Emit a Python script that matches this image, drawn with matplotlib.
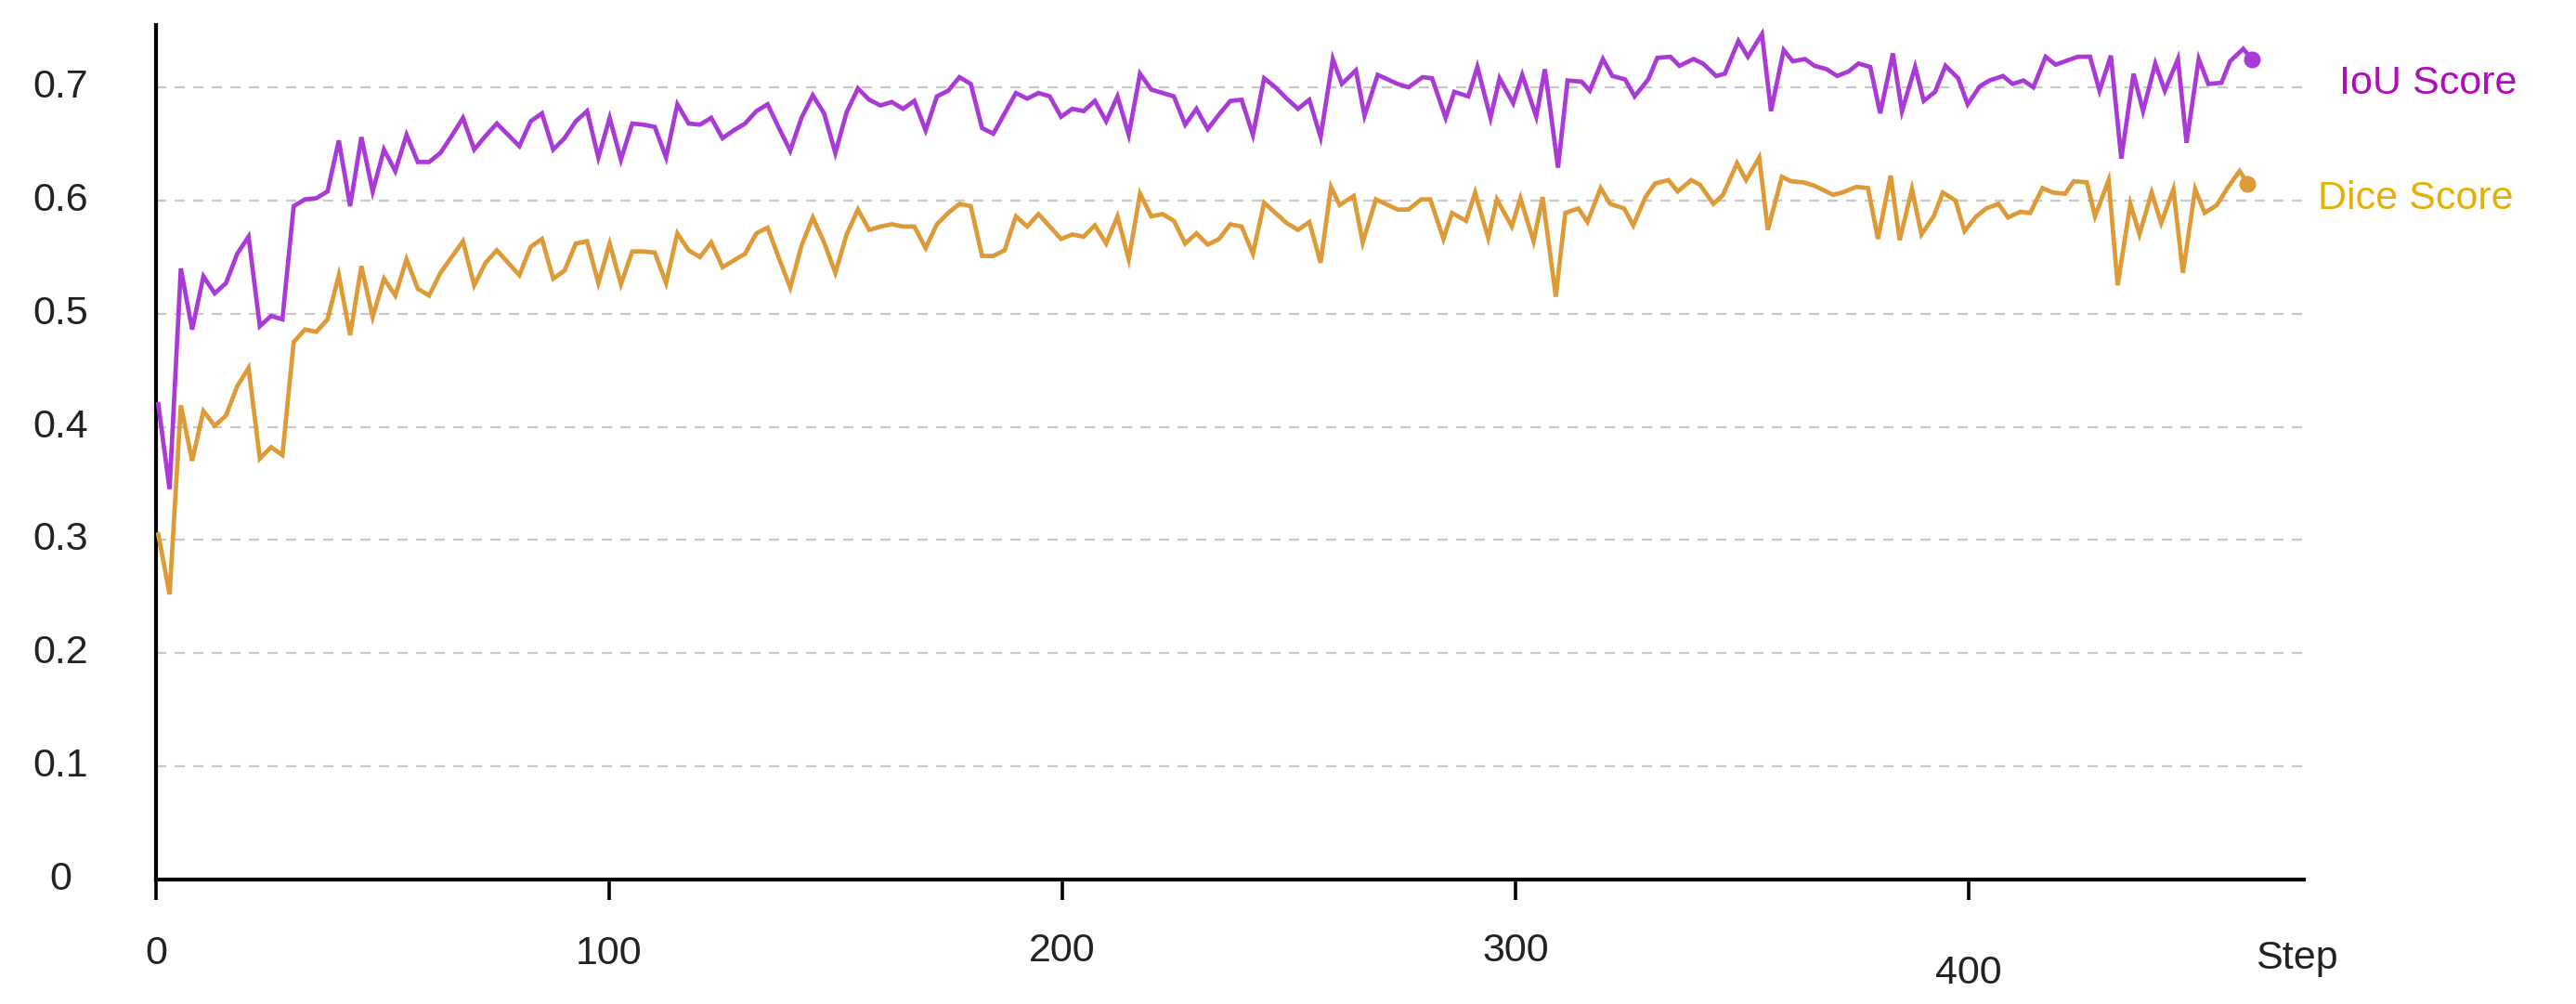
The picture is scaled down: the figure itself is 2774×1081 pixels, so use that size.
import numpy as np
import matplotlib
matplotlib.use("Agg")
import matplotlib.pyplot as plt
import matplotlib.transforms as mtransforms

plt.rcParams['font.family'] = ['Liberation Sans', 'DejaVu Sans']

iou_early = [0.42,0.345,0.54,0.486,0.533,0.518,0.527,0.553,0.568,0.489,
0.498,0.495,0.595,0.601,0.602,0.608,0.653,0.595,0.656,0.608,
0.645,0.626,0.658,0.634,0.634,0.642,0.657,0.673,0.645,0.657,
0.668,0.658,0.648,0.670,0.677,0.645,0.655,0.670,0.679,0.638,
0.673,0.636,0.668,0.667,0.665,0.638,0.685,0.668,0.667,0.673,
0.655,0.662,0.668,0.679,0.685,0.664,0.644,0.673,0.693,0.677,
0.642,0.678,0.699,0.689,0.684,0.687,0.681,0.688,0.662,0.692,
0.697,0.709,0.703,0.664,0.659,0.677,0.695,0.690,0.695,0.692,
0.674,0.681,0.679,0.688,0.670,0.692,0.658,0.712,0.698,0.695,
0.692,0.667,0.681,0.663,0.676,0.688,0.689,0.658,0.708,0.700,
0.690,0.681,0.689,0.656]
dice_early = [0.305,0.252,0.419,0.370,0.414,0.401,0.410,0.436,0.452,0.372,
0.382,0.375,0.475,0.486,0.484,0.495,0.534,0.481,0.542,0.497,
0.531,0.516,0.548,0.522,0.516,0.536,0.550,0.564,0.525,0.545,
0.556,0.545,0.534,0.559,0.566,0.531,0.538,0.562,0.564,0.527,
0.562,0.526,0.555,0.555,0.554,0.527,0.571,0.556,0.550,0.563,
0.541,0.547,0.553,0.571,0.576,0.549,0.523,0.560,0.585,0.563,
0.536,0.570,0.592,0.574,0.577,0.579,0.577,0.577,0.558,0.579,
0.589,0.597,0.595,0.551,0.551,0.556,0.586,0.577,0.588,0.577,
0.566,0.570,0.568,0.578,0.562,0.586,0.548,0.606,0.586,0.588,
0.582,0.562,0.571,0.561,0.566,0.579,0.577,0.553,0.598,0.589,
0.580,0.574,0.581,0.545]
early_steps = np.linspace(0.5, 257, len(iou_early))

iou_late_steps = [259.7,261.7,264.8,266.7,269.6,274,276.4,279.5,281.6,284.6,286.5,289.6,291.6,294.5,296.5,299.5,301.5,304.6,306.5,309.4,311.5,314.6,316.4,319.3,321.4,324.2,326.3,329.3,331.3,334.2,336.2,339.3,341.4,344.3,346.2,349.2,351.3,354.4,356.4,359.2,361.2,363.9,366,368.7,371,373.5,375.7,378.3,380.5,383.3,385.3,388.2,390.1,392.6,394.9,397.7,399.8,402.5,404.6,407.6,409.7,412.1,414.3,417,419.2,422,424.1,426.8,428.9,431.4,433.7,436.4,438.5,441.2,443.3,446.2,448.1,450.8,452.9,455.8,457.7,460.6,462.5]
iou_late = [.725,.703,.715,.675,.711,.703,.700,.709,.708,.673,.696,.692,.718,.673,.708,.686,.711,.674,.716,.629,.706,.705,.697,.725,.710,.707,.692,.707,.726,.727,.719,.725,.721,.710,.712,.741,.727,.747,.679,.733,.723,.725,.719,.716,.710,.714,.721,.718,.677,.730,.679,.718,.688,.696,.719,.708,.685,.701,.706,.710,.703,.706,.700,.727,.720,.724,.727,.727,.697,.728,.637,.712,.679,.721,.697,.725,.651,.725,.703,.704,.723,.734,.725]
dice_late_steps = [259.3,261.2,264.3,266.3,269.2,274,276.4,279.2,281.2,284.1,286,289.1,291.1,294,295.9,299.2,301.1,304,306,308.9,311,313.9,315.9,318.8,320.9,324,326,328.7,330.8,333.8,335.8,338.8,340.7,343.7,345.8,348.9,350.9,353.8,355.7,358.8,360.8,363.6,366,370.1,372.1,375.2,377.8,380,382.8,384.8,387.5,389.6,392.3,394.3,397.1,399.1,401.7,403.9,406.6,408.7,411.4,413.6,416.3,418.6,421.3,423.2,426.1,427.9,430.9,432.9,435.7,437.7,440.4,442.5,445.2,447.3,450,452.1,454.8,457.1,459.8,461.6]
dice_late = [.612,.596,.604,.563,.601,.592,.592,.601,.601,.566,.589,.582,.607,.567,.601,.577,.602,.564,.603,.515,.589,.593,.581,.611,.597,.593,.578,.603,.615,.618,.608,.618,.614,.597,.605,.633,.618,.638,.574,.621,.617,.616,.613,.605,.607,.612,.611,.566,.622,.565,.610,.570,.586,.607,.600,.573,.586,.593,.597,.585,.590,.589,.611,.607,.606,.617,.616,.586,.618,.525,.597,.570,.607,.580,.610,.536,.610,.589,.596,.611,.626,.615]

x_ticks = [0, 100, 200, 300, 400]
y_ticks = [0, 0.1, 0.2, 0.3, 0.4, 0.5, 0.6, 0.7]
y_labels = ['0', '0.1', '0.2', '0.3', '0.4', '0.5', '0.6', '0.7']
series_names = ['IoU Score', 'Dice Score']

iou_x = np.concatenate([early_steps, iou_late_steps])
iou_y = np.concatenate([iou_early, iou_late])
dice_x = np.concatenate([early_steps, dice_late_steps])
dice_y = np.concatenate([dice_early, dice_late])

W, H = 2774, 1081
fig = plt.figure(figsize=(W/100, H/100), dpi=100)
ax = fig.add_axes([168/W, 1-947/H, (2481-168)/W, (947-27)/H])
ax.set_xlim(0, 474)
ax.set_ylim(0, 0.755)

for v in y_ticks[1:]:
    ax.axhline(v, color='#c8c8c8', lw=1.6, ls=(0, (5, 4)), zorder=1)

c_iou, c_dice = '#a93ad8', '#dd9a36'
ax.plot(iou_x, iou_y, color=c_iou, lw=3.4, zorder=3, solid_joinstyle='miter')
ax.plot(dice_x, dice_y, color=c_dice, lw=3.4, zorder=3, solid_joinstyle='miter')
ax.plot(iou_x[-1], iou_y[-1], 'o', color=c_iou, ms=12, zorder=4)
ax.plot(dice_x[-1], dice_y[-1], 'o', color=c_dice, ms=12, zorder=4)

for s in ['top', 'right']:
    ax.spines[s].set_visible(False)
for s in ['left', 'bottom']:
    ax.spines[s].set_linewidth(3)
    ax.spines[s].set_color('black')

ax.set_yticks([])
ax.set_xticks(x_ticks)
ax.set_xticklabels([])
ax.tick_params(axis='x', length=16, width=2.6, color='black')

fs = 31
tr_y = mtransforms.blended_transform_factory(fig.transFigure, ax.transData)
for v, lab in zip(y_ticks, y_labels):
    ax.text(65/W, v, lab, transform=tr_y, ha='center', va='center', fontsize=fs, color='#222222')

tr_x = mtransforms.blended_transform_factory(ax.transData, fig.transFigure)
x_label_y = [1027, 1027, 1024, 1024, 1048]
for xv, yy in zip(x_ticks, x_label_y):
    ax.text(xv, 1-yy/H, str(xv), transform=tr_x, ha='center', va='center', fontsize=fs, color='#222222')
fig.text(2473/W, 1-1032/H, 'Step', ha='center', va='center', fontsize=fs, color='#222222')

fig.text(2519/W, 1-90/H, series_names[0], ha='left', va='center', fontsize=fs, color='#b00cb8')
fig.text(2496/W, 1-214/H, series_names[1], ha='left', va='center', fontsize=fs, color='#e2b00a')

fig.savefig('out.png', dpi=100)
